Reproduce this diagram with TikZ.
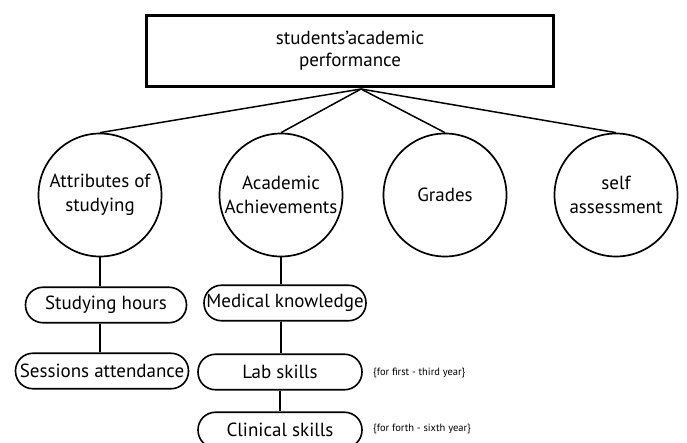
\documentclass[tikz,border=0pt]{standalone}
\usepackage{fontspec}
\setmainfont{PT Sans}
\begin{document}
\begin{tikzpicture}[x=1pt,y=-1pt,
  topbox/.style={draw,line width=3pt,minimum width=407pt,minimum height=71pt,align=center,font=\fontsize{19}{22}\selectfont},
  group/.style={draw,circle,line width=1.7pt,minimum size=123pt,inner sep=0pt,align=center,font=\fontsize{19}{24}\selectfont},
  item/.style={draw,rounded corners=17.5pt,line width=1.6pt,minimum height=35.5pt,inner sep=1pt,font=\fontsize{19}{22}\selectfont},
  note/.style={anchor=west,inner sep=0pt,font=\fontsize{10.5}{12}\selectfont}]
\useasboundingbox (0,0) rectangle (687,443);
\node[topbox] (perf) at (350,51) {students’academic\\performance};
\coordinate (apex) at (361,89);
\node[group] (attr) at (100,195) {Attributes of\\studying};
\node[group] (achv) at (281,195) {Academic\\Achievements};
\node[group] (grad) at (445,195) {Grades};
\node[group] (self) at (616,195) {self\\assessment};
\foreach \c in {attr,achv,grad,self}
{
	\draw[line width=1.5pt] (apex) -- (\c.north);
}
\node[item,minimum width=161pt] (hours) at (106,305) {Studying hours};
\node[item,minimum width=173pt] (sess) at (102,371) {Sessions attendance};
\node[item,minimum width=162pt] (med) at (285,303) {Medical knowledge};
\node[item,minimum width=164pt] (lab) at (280,372) {Lab skills};
\node[item,minimum width=164pt] (clin) at (280,430) {Clinical skills};
\draw[line width=1.5pt] (attr.south) -- (attr.south |- hours.north);
\draw[line width=1.5pt] (attr.south |- hours.south) -- (attr.south |- sess.north);
\draw[line width=1.5pt] (achv.south) -- (achv.south |- med.north);
\draw[line width=1.5pt] (achv.south |- med.south) -- (achv.south |- lab.north);
\draw[line width=1.5pt] (lab.south) -- (clin.north);
\node[note] (labnote) at (373,373) {\{for first - third year\}};
\node[note] (clinnote) at (373,429) {\{for forth - sixth year\}};
\end{tikzpicture}
\end{document}
